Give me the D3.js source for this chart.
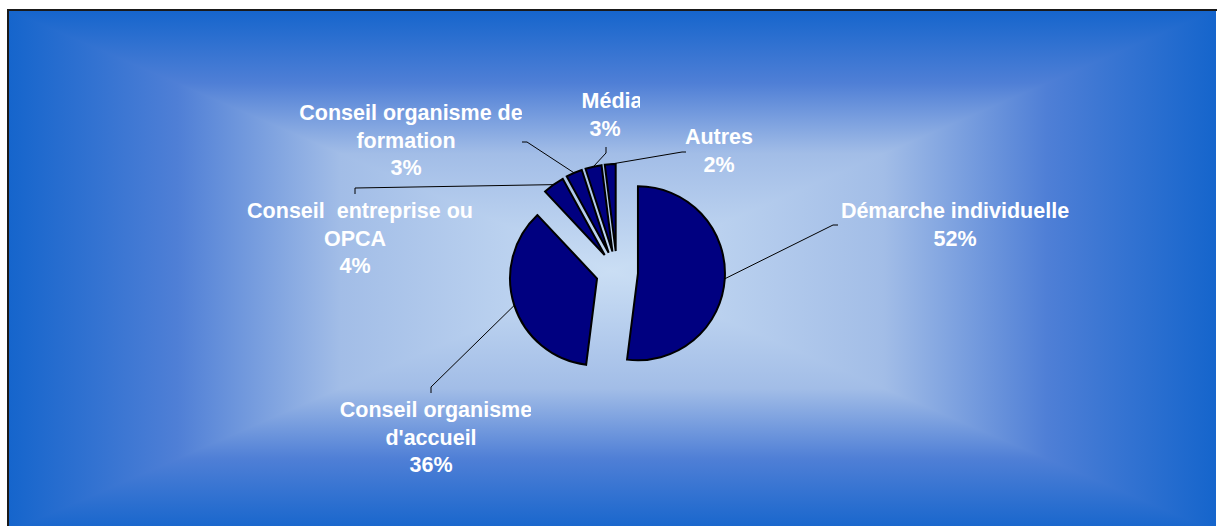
<!DOCTYPE html>
<html>
<head>
<meta charset="utf-8">
<script src="https://cdn.jsdelivr.net/npm/d3@7"></script>
<style>
  html, body { margin: 0; padding: 0; background: #fff; }
  svg { display: block; }
  .lbl { font-family: "Liberation Sans", Arial, sans-serif; font-weight: bold; font-size: 21.5px; fill: #fff; white-space: pre; }
</style>
</head>
<body>
<div id="chart"></div>
<script>
// data
const categories = ["Démarche individuelle", "Conseil organisme d'accueil", "Conseil  entreprise ou OPCA",
                    "Conseil organisme de formation", "Média", "Autres"];
const values = [52, 36, 4, 3, 3, 2];
const labelLines = [
    ["Démarche individuelle", "52%"],
    ["Conseil organisme", "d'accueil", "36%"],
    ["Conseil  entreprise ou", "OPCA", "4%"],
    ["Conseil organisme de", "formation", "3%"],
    ["Média", "3%"],
    ["Autres", "2%"]
];

// label placement (manual, like in the original sheet)
const labelLayout = [
    {cx: 955, y: 218, elbow: [833, 225], end: [838, 225], dx0: 0, clip: null},
    {cx: 431, y: 417, elbow: [431, 387], end: [431, 393], dx0: 5, clip: 531},
    {cx: 355, y: 218, elbow: [355, 188], end: [355, 194], dx0: 5, clip: null},
    {cx: 406, y: 120, elbow: [527, 142], end: [522, 142], dx0: 5, clip: 522},
    {cx: 605, y: 108, elbow: [606, 153], end: [606, 147], dx0: 7, clip: 640},
    {cx: 719, y: 144, elbow: [682, 152], end: [686, 152], dx0: 0, clip: null}
];

const W = 1217, H = 526;
const frame = {x0: 8, y0: 10, x1: 1216, y1: 532};
const pieC = {x: 617, y: 272};
const radius = 87, explode = 21;
const lineGap = 27.5;

const svg = d3.select("#chart").append("svg")
    .attr("width", W)
    .attr("height", H);

const defs = svg.append("defs");

// rectangular "from centre" gradient: vertical ramp on the whole box, horizontal ramps on left/right triangles
const fcx = (frame.x0 + frame.x1) / 2, fcy = (frame.y0 + frame.y1) / 2;
const stops = [
    {o: 0, c: "#1565cc"},
    {o: 0.28, c: "#4f7fd6"},
    {o: 0.55, c: "#a2bde7"},
    {o: 1, c: "#cadef4"}
];
function addGrad(id, x1, y1, x2, y2) {
    let g = defs.append("linearGradient").attr("id", id)
        .attr("gradientUnits", "userSpaceOnUse")
        .attr("x1", x1).attr("y1", y1).attr("x2", x2).attr("y2", y2)
        .attr("spreadMethod", "reflect");
    g.selectAll("stop").data(stops).enter().append("stop")
        .attr("offset", d => d.o).attr("stop-color", d => d.c);
}
addGrad("gV", fcx, frame.y0, fcx, fcy);
addGrad("gH", frame.x0, fcy, fcx, fcy);

svg.append("rect")
    .attr("x", frame.x0).attr("y", frame.y0)
    .attr("width", frame.x1 - frame.x0).attr("height", frame.y1 - frame.y0)
    .attr("fill", "url(#gV)");

svg.append("path")
    .attr("fill", "url(#gH)")
    .attr("d", "M" + frame.x0 + "," + frame.y0 + "L" + fcx + "," + fcy + "L" + frame.x0 + "," + frame.y1 + "Z"
        + "M" + frame.x1 + "," + frame.y0 + "L" + fcx + "," + fcy + "L" + frame.x1 + "," + frame.y1 + "Z");

// border (runs off the right and bottom edges of the picture)
svg.append("rect")
    .attr("x", frame.x0).attr("y", frame.y0)
    .attr("width", frame.x1 + 10 - frame.x0).attr("height", frame.y1 + 10 - frame.y0)
    .attr("fill", "none")
    .attr("stroke", "#1a1a1a")
    .attr("stroke-width", 2);

// pie
const pie = d3.pie().sort(null).value(d => d);
const arcs = pie(values);
const arc = d3.arc().innerRadius(0).outerRadius(radius);

function dirOf(a) { return [Math.sin(a), -Math.cos(a)]; }

const g = svg.append("g").attr("transform", "translate(" + pieC.x + "," + pieC.y + ")");

g.selectAll(".slice")
    .data(arcs)
    .enter().append("path")
    .attr("class", "slice")
    .attr("transform", d => {
        let m = dirOf((d.startAngle + d.endAngle) / 2);
        return "translate(" + (m[0] * explode) + "," + (m[1] * explode) + ")";
    })
    .attr("d", arc)
    .attr("fill", "#000080")
    .attr("stroke", "#000")
    .attr("stroke-width", 2)
    .attr("stroke-linejoin", "miter");

// leader lines
svg.selectAll(".leader")
    .data(arcs)
    .enter().append("path")
    .attr("class", "leader")
    .attr("fill", "none")
    .attr("stroke", "#000")
    .attr("stroke-width", 1)
    .attr("d", (d, i) => {
        let m = dirOf((d.startAngle + d.endAngle) / 2);
        let sx = pieC.x + m[0] * (explode + radius), sy = pieC.y + m[1] * (explode + radius);
        let L = labelLayout[i];
        return "M" + sx + "," + sy + "L" + L.elbow[0] + "," + L.elbow[1] + "L" + L.end[0] + "," + L.end[1];
    });

// labels
labelLayout.forEach((L, i) => {
    let grp = svg.append("g");
    if (L.clip !== null) {
        defs.append("clipPath").attr("id", "clip" + i)
            .append("rect").attr("x", 0).attr("y", 0).attr("width", L.clip).attr("height", H);
        grp.attr("clip-path", "url(#clip" + i + ")");
    }
    grp.selectAll("text")
        .data(labelLines[i])
        .enter().append("text")
        .attr("class", "lbl")
        .attr("text-anchor", "middle")
        .attr("x", (d, j) => L.cx + (j === 0 ? L.dx0 : 0))
        .attr("y", (d, j) => L.y + j * lineGap)
        .text(d => d);
});
</script>
</body>
</html>
